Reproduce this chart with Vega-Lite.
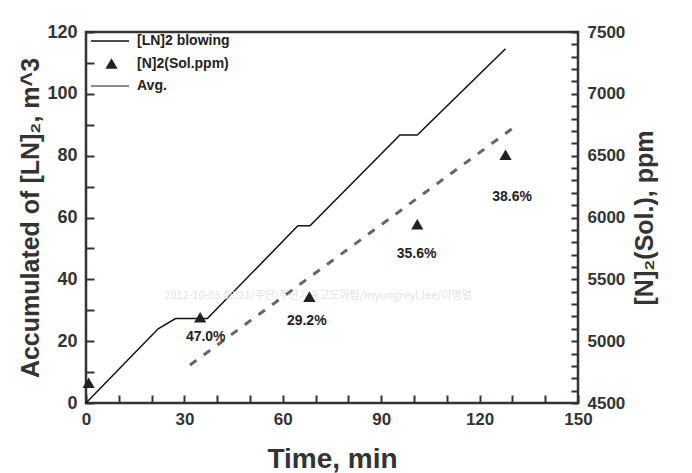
{
  "$schema": "https://vega.github.io/schema/vega-lite/v6.json",
  "width": 492,
  "height": 371,
  "autosize": {"type": "none"},
  "padding": {"left": 86, "top": 32, "right": 114, "bottom": 70},
  "background": "white",
  "config": {
    "font": "Liberation Sans",
    "view": {"stroke": "#333", "strokeWidth": 2.5},
    "axis": {
      "labelFont": "Liberation Sans", "titleFont": "Liberation Sans",
      "labelFontWeight": "bold", "titleFontWeight": "bold",
      "labelColor": "#333", "titleColor": "#333", "grid": false
    },
    "legend": {
      "orient": "none", "legendX": 5, "legendY": 1, "padding": 0,
      "labelFontSize": 14, "labelFontWeight": "bold", "labelColor": "#222", "labelFont": "Liberation Sans",
      "symbolSize": 1444, "symbolStrokeWidth": 1.5, "clipHeight": 16, "rowPadding": 6.5, "labelOffset": 32
    }
  },
  "datasets": {
    "blowing": [
      {"t": 0, "v": 0, "series": "[LN]2 blowing"},
      {"t": 22, "v": 24, "series": "[LN]2 blowing"},
      {"t": 27.3, "v": 27.3, "series": "[LN]2 blowing"},
      {"t": 37, "v": 27.3, "series": "[LN]2 blowing"},
      {"t": 64.6, "v": 57.3, "series": "[LN]2 blowing"},
      {"t": 68.3, "v": 57.3, "series": "[LN]2 blowing"},
      {"t": 95.7, "v": 86.7, "series": "[LN]2 blowing"},
      {"t": 101, "v": 86.7, "series": "[LN]2 blowing"},
      {"t": 127.9, "v": 114.6, "series": "[LN]2 blowing"}
    ],
    "sol": [
      {"t": 0.8, "ppm": 4664, "series": "[N]2(Sol.ppm)"},
      {"t": 34.8, "ppm": 5193, "series": "[N]2(Sol.ppm)"},
      {"t": 68.1, "ppm": 5360, "series": "[N]2(Sol.ppm)"},
      {"t": 101, "ppm": 5946, "series": "[N]2(Sol.ppm)"},
      {"t": 127.9, "ppm": 6507, "series": "[N]2(Sol.ppm)"}
    ],
    "avg": [
      {"t": 31.7, "ppm": 4807, "series": "Avg."},
      {"t": 131.8, "ppm": 6755, "series": "Avg."}
    ],
    "pct": [
      {"t": 36.5, "ppm": 5036, "text": "47.0%"},
      {"t": 67.3, "ppm": 5166, "text": "29.2%"},
      {"t": 100.8, "ppm": 5703, "text": "35.6%"},
      {"t": 129.9, "ppm": 6164, "text": "38.6%"}
    ],
    "wm": [
      {"t": 70.7, "ppm": 5365, "text": "2012-10-05 08:21/주단)주단기술고도화팀/myungreyl.lee/이명열"}
    ]
  },
  "resolve": {"scale": {"y": "independent"}},
  "layer": [
    {
      "data": {"name": "blowing"},
      "mark": {"type": "line", "strokeWidth": 1.5},
      "encoding": {
        "x": {
          "field": "t", "type": "quantitative",
          "scale": {"domain": [0, 150], "nice": false},
          "axis": {
            "tickCount": 15,
            "labelExpr": "datum.value % 30 === 0 ? datum.label : ''",
            "labelOverlap": false, "labelFlush": false,
            "domain": false, "ticks": true, "tickColor": "#333", "tickWidth": 2, "tickSize": -8,
            "labelPadding": 16, "labelFontSize": 17,
            "title": "Time, min", "titleFontSize": 28, "titlePadding": 18,
            "encode": {"ticks": {"update": {"y2": {"signal": "datum.value % 30 === 0 ? -9 : -5"}}}}
          }
        },
        "y": {
          "field": "v", "type": "quantitative",
          "scale": {"domain": [0, 120], "nice": false},
          "axis": {
            "tickCount": 12,
            "labelExpr": "datum.value % 20 === 0 ? datum.label : ''",
            "labelOverlap": false, "labelFlush": false,
            "domain": false, "ticks": true, "tickColor": "#333", "tickWidth": 2, "tickSize": 8, "offset": -8,
            "labelPadding": 9, "labelFontSize": 18,
            "title": "Accumulated of [LN]₂, m^3", "titleFontSize": 25, "titlePadding": 3
          }
        },
        "color": {
          "field": "series", "type": "nominal",
          "scale": {"domain": ["[LN]2 blowing", "[N]2(Sol.ppm)", "Avg."], "range": ["#111", "#222", "#666"]},
          "legend": {
            "title": null,
            "encode": {"symbols": {"update": {
              "size": {"signal": "datum.value === '[N]2(Sol.ppm)' ? 150 : 1444"},
              "x": {"signal": "datum.value === '[N]2(Sol.ppm)' ? 20.5 : 19"},
              "fill": {"signal": "datum.value === '[N]2(Sol.ppm)' ? '#222' : 'transparent'"},
              "stroke": {"signal": "datum.value === 'Avg.' ? '#888' : '#111'"},
              "strokeWidth": {"signal": "datum.value === '[N]2(Sol.ppm)' ? 0 : 1.5"}
            }}}
          }
        }
      }
    },
    {
      "encoding": {
        "x": {"field": "t", "type": "quantitative", "scale": {"domain": [0, 150], "nice": false}},
        "y": {
          "field": "ppm", "type": "quantitative",
          "scale": {"domain": [4500, 7500], "nice": false},
          "axis": {
            "orient": "right",
            "tickCount": 30,
            "labelExpr": "datum.value % 500 === 0 ? datum.label : ''",
            "format": "d",
            "labelOverlap": false, "labelFlush": false,
            "domain": false, "ticks": true, "tickColor": "#333", "tickWidth": 2, "tickSize": 7, "offset": -7,
            "labelPadding": 9, "labelFontSize": 17,
            "title": "[N]₂(Sol.),  ppm", "titleFontSize": 25, "titlePadding": 8, "titleAngle": 270, "titleBaseline": "top"
          }
        }
      },
      "layer": [
        {
          "data": {"name": "wm"},
          "mark": {"type": "text", "fontSize": 11, "color": "#e4e4e4", "font": "Noto Sans CJK KR"},
          "encoding": {"text": {"field": "text"}}
        },
        {
          "data": {"name": "avg"},
          "mark": {"type": "line", "strokeWidth": 3, "strokeDash": [8, 9]},
          "encoding": {
            "color": {
              "field": "series", "type": "nominal",
              "scale": {"domain": ["[LN]2 blowing", "[N]2(Sol.ppm)", "Avg."], "range": ["#111", "#222", "#666"]},
              "legend": {
                "title": null,
                "encode": {"symbols": {"update": {
                  "size": {"signal": "datum.value === '[N]2(Sol.ppm)' ? 150 : 1444"},
                  "x": {"signal": "datum.value === '[N]2(Sol.ppm)' ? 20.5 : 19"},
                  "fill": {"signal": "datum.value === '[N]2(Sol.ppm)' ? '#222' : 'transparent'"},
                  "stroke": {"signal": "datum.value === 'Avg.' ? '#888' : '#111'"},
                  "strokeWidth": {"signal": "datum.value === '[N]2(Sol.ppm)' ? 0 : 1.5"}
                }}}
              }
            }
          }
        },
        {
          "data": {"name": "sol"},
          "mark": {"type": "point", "filled": true, "size": 150, "opacity": 1},
          "encoding": {
            "color": {
              "field": "series", "type": "nominal",
              "scale": {"domain": ["[LN]2 blowing", "[N]2(Sol.ppm)", "Avg."], "range": ["#111", "#222", "#666"]},
              "legend": {
                "title": null,
                "encode": {"symbols": {"update": {
                  "size": {"signal": "datum.value === '[N]2(Sol.ppm)' ? 150 : 1444"},
                  "x": {"signal": "datum.value === '[N]2(Sol.ppm)' ? 20.5 : 19"},
                  "fill": {"signal": "datum.value === '[N]2(Sol.ppm)' ? '#222' : 'transparent'"},
                  "stroke": {"signal": "datum.value === 'Avg.' ? '#888' : '#111'"},
                  "strokeWidth": {"signal": "datum.value === '[N]2(Sol.ppm)' ? 0 : 1.5"}
                }}}
              }
            },
            "shape": {
              "field": "series", "type": "nominal",
              "scale": {"domain": ["[LN]2 blowing", "[N]2(Sol.ppm)", "Avg."], "range": ["stroke", "triangle-up", "stroke"]},
              "legend": {
                "title": null,
                "encode": {"symbols": {"update": {
                  "size": {"signal": "datum.value === '[N]2(Sol.ppm)' ? 150 : 1444"},
                  "x": {"signal": "datum.value === '[N]2(Sol.ppm)' ? 20.5 : 19"},
                  "fill": {"signal": "datum.value === '[N]2(Sol.ppm)' ? '#222' : 'transparent'"},
                  "stroke": {"signal": "datum.value === 'Avg.' ? '#888' : '#111'"},
                  "strokeWidth": {"signal": "datum.value === '[N]2(Sol.ppm)' ? 0 : 1.5"}
                }}}
              }
            }
          }
        },
        {
          "data": {"name": "pct"},
          "mark": {"type": "text", "fontSize": 14, "fontWeight": "bold", "color": "#222", "font": "Liberation Sans"},
          "encoding": {"text": {"field": "text"}}
        }
      ]
    }
  ]
}
